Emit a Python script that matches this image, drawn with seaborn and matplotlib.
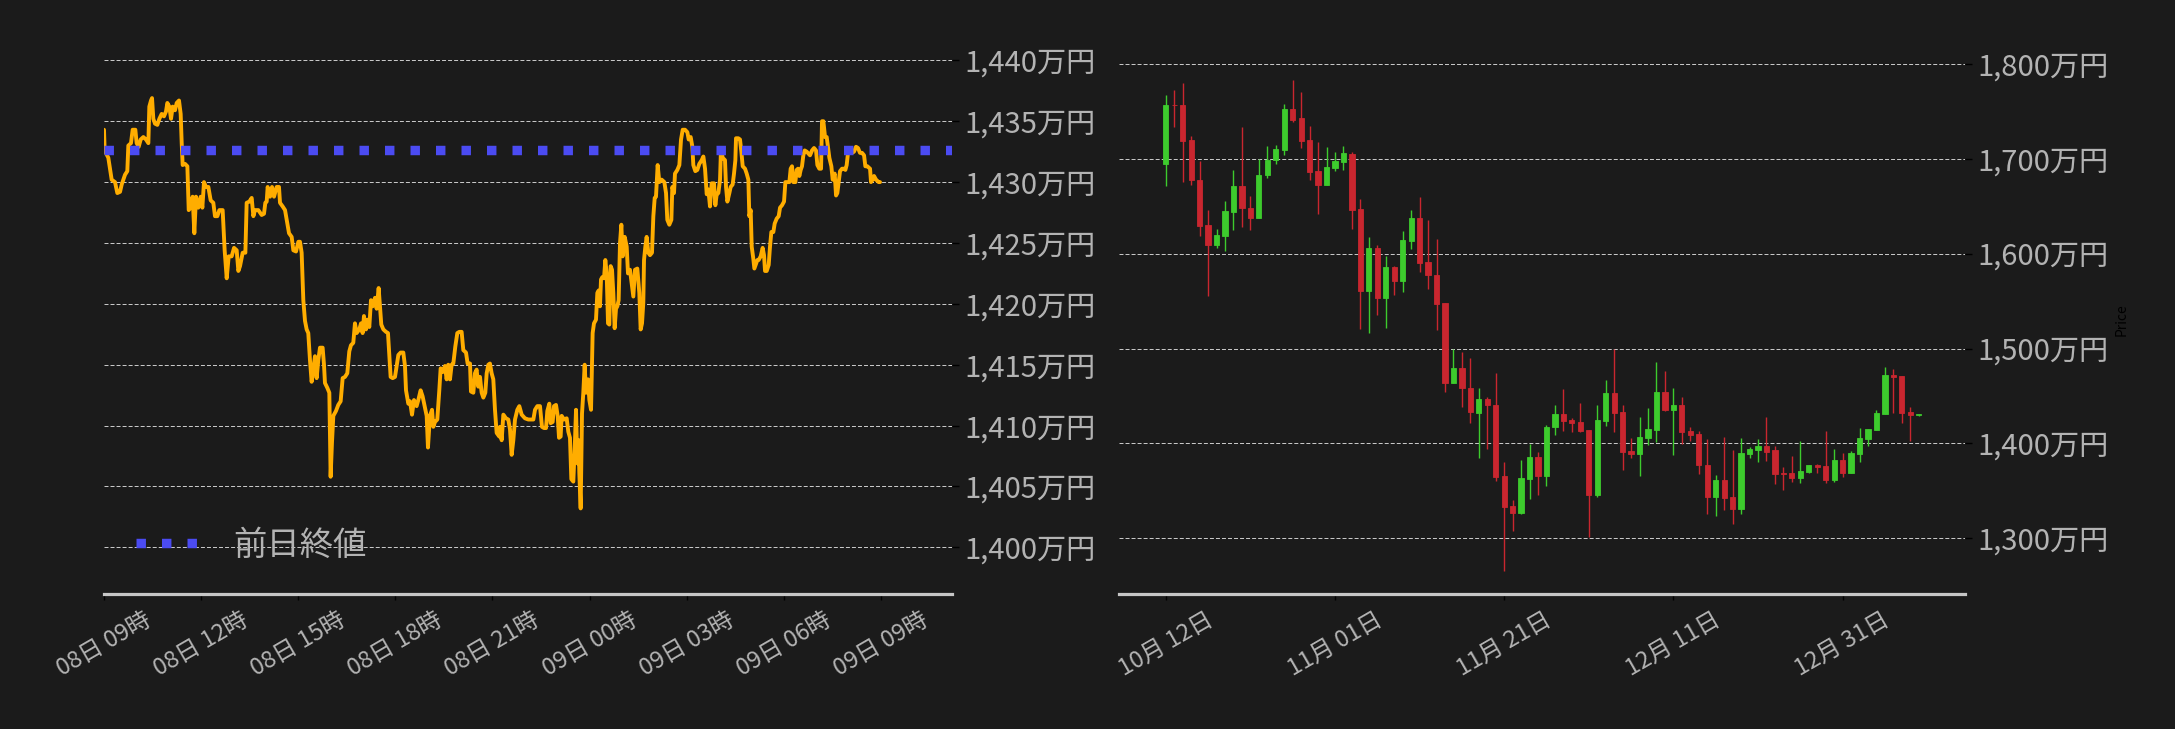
import numpy as np
import pandas as pd
import matplotlib
matplotlib.use("Agg")
import matplotlib.pyplot as plt
import matplotlib.dates as mdates
from matplotlib.ticker import FuncFormatter, FixedLocator
import seaborn as sns

# ---------------- intraday data (minutes from 08日 09:00, price in 万円) ----------------
times_a = [0.0, 1.2, 8.0, 14.2, 20.4, 24.7, 29.7, 32.8, 38.9, 43.2,
           45.1, 50.0, 53.1, 58.1, 60.5, 64.3, 68.0, 72.9, 77.8, 82.2,
           84.0, 87.1, 89.0, 91.4, 94.5, 98.9, 102.6, 106.9, 111.2, 114.9,
           117.4, 121.1, 124.2, 127.3, 131.6, 134.7, 139.0, 142.1, 144.0, 145.8,
           150.1, 154.5, 157.0, 160.6, 164.3, 167.4, 170.5, 174.8, 179.2, 182.3,
           185.3, 189.0, 193.4, 197.7, 202.6, 205.7, 210.1, 213.8, 219.9, 223.6,
           227.4, 231.1, 236.6, 241.0, 245.9, 249.0, 252.1, 257.0, 262.0, 264.4,
           269.4, 273.7, 276.8, 279.9, 286.0, 292.2, 296.5, 299.0, 301.5, 303.3,
           307.7, 311.4, 315.1, 320.0, 324.3, 326.2, 331.1, 335.5, 338.6, 342.9,
           347.8, 350.9, 355.9, 360.2]
prices_a = [1434.3, 1432.6, 1432.0, 1430.2, 1430.0, 1429.1, 1429.2, 1429.8, 1430.6, 1430.9,
            1433.0, 1433.2, 1434.3, 1434.3, 1433.2, 1432.9, 1433.5, 1433.7, 1433.5, 1433.2,
            1436.2, 1436.7, 1436.9, 1435.2, 1434.8, 1434.7, 1435.2, 1435.6, 1435.4, 1435.8,
            1436.5, 1436.2, 1435.2, 1436.2, 1435.9, 1436.5, 1436.7, 1435.6, 1433.2, 1431.4,
            1431.5, 1431.3, 1427.7, 1427.9, 1428.8, 1425.8, 1428.8, 1427.9, 1428.8, 1427.9,
            1430.0, 1429.6, 1429.6, 1428.5, 1428.3, 1427.2, 1427.2, 1427.7, 1427.7, 1424.4,
            1422.1, 1423.9, 1423.9, 1424.6, 1424.4, 1422.7, 1423.1, 1424.2, 1424.2, 1428.3,
            1428.4, 1428.7, 1427.2, 1427.7, 1427.7, 1427.3, 1427.4, 1428.3, 1428.4, 1429.6,
            1428.8, 1429.6, 1428.8, 1429.6, 1429.6, 1428.3, 1428.0, 1427.7, 1426.9, 1425.8,
            1425.5, 1424.4, 1424.3, 1425.1]

times_b = [363.2, 366.3, 369.4, 372.5, 375.6, 378.6, 381.7, 384.8, 387.9, 391.0,
           394.1, 397.2, 400.3, 405.2, 407.7, 409.5, 413.9, 417.6, 420.0, 422.5,
           425.0, 429.9, 434.2, 438.6, 442.3, 446.6, 450.9, 454.6, 457.7, 462.0,
           465.1, 468.2, 473.2, 476.3, 479.3, 481.8, 485.5, 488.6, 491.7, 494.8,
           497.9, 502.2, 505.3, 509.0, 511.5, 513.9, 517.7, 522.6, 526.3, 528.8,
           531.2, 535.0, 539.3, 542.4, 545.5, 549.8, 554.7, 557.8, 559.7, 564.0,
           567.1, 570.8, 574.5, 579.4, 582.5, 586.8, 590.5, 594.3, 598.0, 600.4,
           604.1, 607.9, 610.3, 613.4, 617.7, 621.4, 623.9, 627.6, 631.9, 635.0,
           638.1, 641.2, 644.3, 647.4, 651.1, 654.8, 658.5, 662.8, 665.9, 670.9,
           673.9, 678.3, 680.1, 684.5, 687.5, 690.6, 693.7, 696.8, 699.9, 703.0,
           706.7, 709.2, 712.3, 715.3, 718.4, 721.5, 724.6, 727.7, 732.6]
prices_b = [1425.1, 1424.2, 1420.3, 1418.6, 1417.9, 1417.6, 1415.4, 1413.6, 1414.6, 1415.7,
            1413.9, 1415.4, 1416.4, 1416.4, 1415.0, 1413.5, 1413.1, 1412.7, 1405.8, 1408.6,
            1410.8, 1411.2, 1411.7, 1412.0, 1413.9, 1414.0, 1414.3, 1416.1, 1416.6, 1416.8,
            1418.4, 1417.6, 1417.9, 1418.4, 1417.6, 1419.0, 1417.9, 1418.7, 1418.1, 1420.3,
            1419.8, 1420.5, 1419.6, 1421.3, 1419.8, 1418.3, 1417.9, 1417.7, 1417.6, 1415.8,
            1414.0, 1413.9, 1414.0, 1414.9, 1415.8, 1416.0, 1416.0, 1414.9, 1412.9, 1411.8,
            1412.0, 1410.9, 1412.1, 1411.6, 1412.1, 1412.9, 1412.4, 1411.6, 1410.8, 1408.2,
            1410.8, 1411.3, 1409.9, 1410.3, 1410.5, 1412.9, 1414.7, 1414.4, 1414.9, 1413.8,
            1415.0, 1413.8, 1415.0, 1415.1, 1416.5, 1417.6, 1417.7, 1417.7, 1416.2, 1416.0,
            1415.1, 1415.1, 1412.8, 1412.7, 1414.3, 1414.6, 1413.2, 1414.0, 1412.7, 1412.3,
            1412.7, 1414.3, 1415.0, 1415.1, 1414.3, 1413.8, 1411.3, 1409.4, 1409.1]

times_c = [733.9, 737.0, 740.1, 745.0, 749.3, 752.4, 755.5, 758.6, 761.7, 766.0,
           769.7, 774.1, 780.2, 786.4, 795.7, 798.8, 803.1, 808.0, 811.7, 815.5,
           819.2, 821.6, 825.3, 827.8, 831.5, 834.0, 837.7, 840.8, 843.3, 846.3,
           848.2, 852.5, 857.5, 860.5, 863.6, 866.1, 869.8, 872.9, 874.8, 877.2,
           879.7, 880.9, 883.4, 885.9, 888.3, 890.8, 893.3, 897.0, 899.5, 902.6,
           905.6, 908.1, 911.8, 914.3, 916.8, 919.2, 921.1, 923.6, 926.7, 929.1,
           931.6, 934.1, 936.5, 939.0, 941.5, 943.9, 946.4, 948.9, 951.4, 953.8,
           956.3, 958.8, 961.2, 965.0, 968.7, 971.1, 974.8, 977.9, 981.0, 984.1,
           988.4, 992.1, 994.6, 997.1, 999.5, 1000.8, 1003.3, 1005.7, 1008.8, 1011.9,
           1015.6, 1018.1, 1020.6, 1023.0, 1026.1, 1029.2, 1033.5, 1038.5, 1041.6, 1044.0,
           1047.7, 1051.5, 1053.3, 1056.4, 1058.2, 1062.6, 1066.3, 1069.4, 1072.5, 1076.8,
           1081.1, 1083.6, 1087.3, 1090.4, 1092.2, 1095.9, 1099.6, 1103.3]
prices_c = [1409.9, 1408.8, 1410.9, 1410.6, 1410.5, 1409.7, 1407.6, 1408.8, 1410.5, 1411.3,
            1411.6, 1410.9, 1410.6, 1410.5, 1410.5, 1411.3, 1411.6, 1411.6, 1409.9, 1409.8,
            1409.8, 1411.2, 1411.8, 1410.2, 1410.3, 1411.6, 1411.7, 1410.8, 1409.0, 1409.1,
            1410.8, 1410.5, 1410.6, 1409.5, 1409.0, 1405.6, 1405.4, 1408.8, 1411.3, 1406.9,
            1408.8, 1406.1, 1403.2, 1411.0, 1412.7, 1415.0, 1412.7, 1413.8, 1412.1, 1411.3,
            1417.6, 1418.4, 1418.7, 1420.9, 1421.1, 1419.8, 1422.0, 1422.2, 1422.1, 1423.6,
            1422.5, 1418.4, 1418.3, 1423.1, 1422.8, 1420.9, 1418.0, 1419.6, 1419.8, 1420.3,
            1425.0, 1426.5, 1423.9, 1425.5, 1424.7, 1422.5, 1422.8, 1421.7, 1420.6, 1422.8,
            1422.9, 1420.9, 1417.9, 1418.4, 1420.1, 1423.6, 1424.7, 1425.5, 1424.2, 1424.0,
            1424.2, 1427.2, 1428.7, 1428.8, 1431.4, 1430.0, 1430.2, 1430.0, 1429.1, 1426.9,
            1426.5, 1426.9, 1429.6, 1429.1, 1430.7, 1431.0, 1431.4, 1433.5, 1434.3, 1434.3,
            1434.1, 1433.5, 1433.7, 1432.9, 1431.4, 1430.9, 1431.0, 1431.5]

times_d = [1107.7, 1110.8, 1113.9, 1117.0, 1120.0, 1123.1, 1126.2, 1130.5, 1133.0, 1135.5,
           1138.6, 1141.7, 1143.5, 1146.6, 1150.9, 1152.8, 1155.3, 1159.0, 1161.4, 1165.1,
           1167.6, 1170.1, 1171.3, 1175.6, 1178.7, 1181.2, 1183.7, 1188.0, 1191.1, 1194.2,
           1196.0, 1198.5, 1200.4, 1203.4, 1205.3, 1208.4, 1210.9, 1213.3, 1217.0, 1220.7,
           1223.2, 1225.1, 1228.2, 1231.9, 1234.3, 1236.8, 1240.5, 1243.0, 1246.7, 1250.4,
           1252.9, 1256.6, 1260.3, 1262.8, 1266.5, 1270.2, 1272.6, 1275.1, 1277.6, 1281.3,
           1283.8, 1286.2, 1288.7, 1291.2, 1293.6, 1296.1, 1298.6, 1302.3, 1308.5, 1312.2,
           1315.9, 1319.6, 1322.1, 1325.7, 1328.9, 1330.7, 1333.2, 1336.3, 1339.4, 1341.8,
           1344.3, 1348.0, 1350.5, 1354.2, 1356.7, 1359.1, 1361.6, 1364.1, 1367.8, 1371.5,
           1374.0, 1376.4, 1378.9, 1382.6, 1386.3, 1390.0, 1393.7, 1397.4, 1401.1, 1404.9,
           1408.6, 1411.0, 1414.7, 1419.7, 1421.5, 1424.6, 1427.1, 1430.8, 1435.7, 1438.2]
prices_d = [1431.8, 1432.1, 1431.1, 1429.0, 1429.4, 1428.0, 1429.9, 1429.9, 1428.1, 1429.0,
            1429.1, 1430.2, 1432.8, 1432.0, 1431.8, 1429.6, 1428.4, 1429.1, 1429.6, 1429.8,
            1430.7, 1431.8, 1433.6, 1433.6, 1433.5, 1432.5, 1431.3, 1431.1, 1430.7, 1430.2,
            1427.2, 1427.7, 1424.7, 1423.7, 1422.9, 1423.3, 1423.6, 1423.6, 1423.9, 1424.6,
            1424.0, 1422.7, 1422.7, 1423.2, 1424.7, 1425.9, 1425.9, 1426.6, 1427.0, 1427.2,
            1427.9, 1428.1, 1428.4, 1430.0, 1430.0, 1430.0, 1431.1, 1431.3, 1430.0, 1430.0,
            1431.0, 1431.1, 1430.5, 1431.0, 1431.3, 1432.2, 1432.6, 1432.5, 1432.2, 1432.6,
            1432.8, 1432.6, 1431.4, 1431.1, 1431.1, 1435.0, 1435.0, 1433.7, 1433.7, 1432.9,
            1432.0, 1431.3, 1430.2, 1430.7, 1428.9, 1429.1, 1430.0, 1430.9, 1431.1, 1431.1,
            1431.0, 1431.4, 1432.4, 1432.4, 1432.4, 1432.5, 1432.9, 1432.8, 1432.4, 1432.4,
            1432.2, 1431.3, 1431.3, 1431.1, 1430.0, 1430.2, 1430.5, 1430.2, 1430.0, 1430.0]

prev_close = 1432.6
prev_close_label = "前日終値"
left_yticks = [1400, 1405, 1410, 1415, 1420, 1425, 1430, 1435, 1440]

# ---------------- daily candles (万円), 2023-10-12 .. 2024-01-09 ----------------
candle_start = "2023-10-12"
opens = [1694, 1757, 1757, 1720, 1678, 1630, 1609, 1619, 1644, 1671,
         1648, 1637, 1683, 1699, 1709, 1752, 1743, 1720, 1687, 1672,
         1690, 1696, 1705, 1647, 1561, 1606, 1553, 1586, 1571, 1613,
         1637, 1591, 1577, 1548, 1464, 1479, 1458, 1432, 1447, 1440,
         1366, 1334, 1327, 1363, 1386, 1366, 1417, 1431, 1425, 1423,
         1414, 1346, 1424, 1453, 1433, 1392, 1389, 1406, 1414, 1454,
         1435, 1441, 1413, 1410, 1377, 1344, 1361, 1344, 1331, 1389,
         1393, 1397, 1393, 1369, 1369, 1364, 1370, 1377, 1376, 1362,
         1383, 1369, 1389, 1405, 1414, 1431, 1472, 1471, 1433, 1429.8]
highs = [1767, 1772, 1780, 1724, 1698, 1646, 1626, 1655, 1688, 1733,
         1661, 1700, 1713, 1714, 1758, 1783, 1770, 1734, 1718, 1712,
         1707, 1713, 1707, 1658, 1617, 1609, 1597, 1587, 1624, 1646,
         1660, 1635, 1615, 1548, 1499, 1496, 1490, 1458, 1449, 1474,
         1380, 1340, 1383, 1399, 1391, 1419, 1441, 1457, 1427, 1443,
         1414, 1440, 1467, 1500, 1441, 1406, 1428, 1437, 1486, 1476,
         1458, 1449, 1417, 1413, 1405, 1367, 1407, 1393, 1406, 1396,
         1405, 1428, 1397, 1375, 1387, 1403, 1377, 1378, 1413, 1394,
         1390, 1392, 1416, 1415, 1435, 1480, 1478, 1471, 1438, 1430.9]
lows = [1671, 1733, 1675, 1672, 1619, 1555, 1606, 1603, 1625, 1628,
        1625, 1637, 1680, 1694, 1704, 1739, 1711, 1678, 1642, 1672,
        1687, 1688, 1626, 1521, 1516, 1535, 1522, 1556, 1559, 1605,
        1581, 1563, 1519, 1454, 1464, 1438, 1421, 1385, 1394, 1360,
        1266, 1308, 1326, 1341, 1346, 1355, 1409, 1413, 1412, 1412,
        1301, 1344, 1418, 1412, 1372, 1385, 1366, 1398, 1401, 1434,
        1388, 1399, 1403, 1368, 1326, 1324, 1330, 1315, 1326, 1385,
        1380, 1382, 1357, 1351, 1359, 1358, 1369, 1369, 1358, 1359,
        1365, 1369, 1380, 1397, 1414, 1431, 1432, 1421, 1403, 1428.8]
closes = [1757, 1756, 1719, 1677, 1629, 1609, 1620, 1645, 1671, 1648,
          1637, 1683, 1699, 1710, 1752, 1741, 1719, 1686, 1672, 1691,
          1697, 1706, 1646, 1561, 1606, 1553, 1586, 1571, 1614, 1637,
          1590, 1577, 1547, 1464, 1479, 1458, 1433, 1447, 1440, 1365,
          1333, 1327, 1364, 1386, 1366, 1417, 1431, 1424, 1422, 1413,
          1346, 1425, 1453, 1432, 1391, 1389, 1407, 1415, 1454, 1435,
          1441, 1412, 1409, 1377, 1344, 1361, 1343, 1331, 1390, 1394,
          1397, 1391, 1368, 1368, 1364, 1371, 1377, 1375, 1362, 1383,
          1369, 1390, 1406, 1415, 1432, 1472, 1470, 1432, 1430, 1430.5]
right_yticks = [1300, 1400, 1500, 1600, 1700, 1800]

# ---------------- style ----------------
BG = "#1b1b1b"
TXT = "#b3b3b3"
GRID = "#cdcdcd"
ORANGE = "#FFAD00"
BLUE = "#4B4BF2"
UP = "#3DCB2D"
DOWN = "#C9262F"

sns.set_theme(style="dark", rc={
    "figure.facecolor": BG, "axes.facecolor": BG, "savefig.facecolor": BG,
    "axes.edgecolor": BG,
})
plt.rcParams["font.family"] = ["Noto Sans CJK JP", "DejaVu Sans"]

fig = plt.figure(figsize=(21.75, 7.29), dpi=100)
W, H = 2175.0, 729.0
ax1 = fig.add_axes([104 / W, 1 - 594 / H, (952 - 104) / W, (594 - 45) / H])
ax2 = fig.add_axes([1119 / W, 1 - 594 / H, (1965 - 1119) / W, (594 - 45) / H])

yen_fmt = FuncFormatter(lambda v, p: f"{v:,.0f}万円")


def style_axis(ax):
    for s in ["top", "left", "right"]:
        ax.spines[s].set_visible(False)
    ax.spines["bottom"].set_visible(True)
    ax.spines["bottom"].set_color("#c6c6c6")
    ax.spines["bottom"].set_linewidth(2.3)
    ax.yaxis.tick_right()
    ax.yaxis.set_major_formatter(yen_fmt)
    ax.tick_params(axis="y", which="major", left=False, right=True, color="black",
                   length=5, width=1, pad=4, labelcolor=TXT, labelsize=21)
    ax.tick_params(axis="x", which="major", bottom=True, color="black", length=4,
                   width=1, pad=6, labelcolor=TXT, labelsize=17, labelrotation=30)
    ax.xaxis.grid(False)
    ax.yaxis.grid(True, color=GRID, linewidth=0.7, linestyle=(0, (4.1, 2.1)))
    ax.set_axisbelow(True)
    ax.set_xlabel("")


# ---------------- left: intraday line ----------------
times = times_a + times_b + times_c + times_d
prices = prices_a + prices_b + prices_c + prices_d
base = pd.Timestamp("2024-01-08 09:00")
df = pd.DataFrame({"time": base + pd.to_timedelta(times, unit="m"), "price": prices})
sns.lineplot(data=df, x="time", y="price", ax=ax1, color=ORANGE, linewidth=2.8,
             estimator=None, zorder=3)
hl = ax1.axhline(prev_close, color=BLUE, linewidth=6.8, linestyle=(0, (1, 1.7)),
                 dash_capstyle="butt", zorder=4, label=prev_close_label)
ax1.set_xlim(base, base + pd.Timedelta(minutes=1571.6))
ax1.set_ylim(1396.17, 1441.26)
ax1.set_yticks(left_yticks)
ax1.xaxis.set_major_locator(mdates.HourLocator(byhour=range(0, 24, 3)))
ax1.xaxis.set_major_formatter(mdates.DateFormatter("%d日 %H時"))
style_axis(ax1)
ax1.set_ylabel("")
ax1.legend(handles=[hl], loc="center left", bbox_to_anchor=(0.0224, 0.0893),
           frameon=False, fontsize=24, handlelength=2.0, handletextpad=0.9,
           borderaxespad=0, labelcolor=TXT)

# ---------------- right: candlesticks ----------------
dates = pd.date_range(candle_start, periods=len(opens), freq="D")
xd = mdates.date2num(dates.to_pydatetime())
o = np.array(opens, float)
c = np.array(closes, float)
hi = np.array(highs, float)
lo = np.array(lows, float)
cols = [UP if cc >= oo else DOWN for oo, cc in zip(o, c)]
ax2.vlines(xd, lo, hi, colors=cols, linewidth=1.0, zorder=2)
ax2.bar(xd, np.abs(c - o), bottom=np.minimum(o, c), width=0.62, color=cols,
        edgecolor=cols, linewidth=0.6, zorder=3)
x0 = mdates.date2num(pd.Timestamp(candle_start).to_pydatetime())
ax2.set_xlim(x0 - 5.53, x0 + 94.47)
ax2.set_ylim(1241.4, 1819.7)
ax2.set_yticks(right_yticks)
tick_days = pd.date_range(candle_start, periods=5, freq="20D")
ax2.xaxis.set_major_locator(FixedLocator(mdates.date2num(tick_days.to_pydatetime())))
ax2.xaxis.set_major_formatter(mdates.DateFormatter("%m月 %d日"))
style_axis(ax2)
ax2.yaxis.set_label_position("right")
ax2.set_ylabel("Price", color="black", fontsize=10, labelpad=4)

fig.savefig("out.png", dpi=100, facecolor=BG)
